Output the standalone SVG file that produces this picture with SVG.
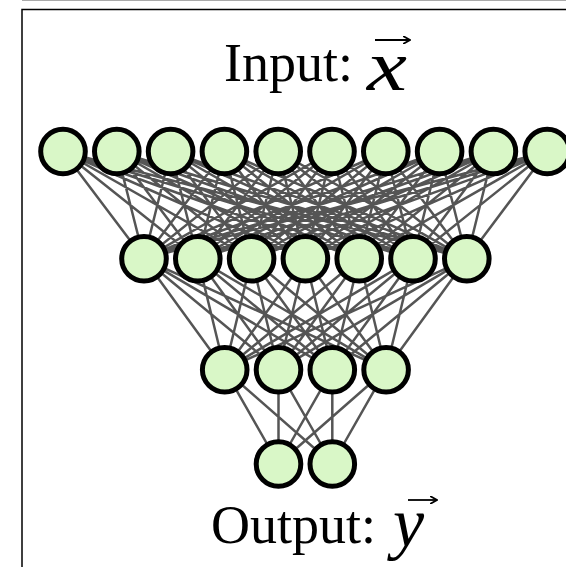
<svg xmlns="http://www.w3.org/2000/svg" width="566" height="567" viewBox="0 0 566 567">
<style>
.node{fill:#d9f7c7;stroke:#000;stroke-width:5}
.edge{stroke:#555;stroke-width:2.5}
.lbl{font-family:"Liberation Serif","Times New Roman",serif;font-size:54px;fill:#000}
.math{font-family:"Liberation Serif","Times New Roman",serif;font-style:italic;font-size:72px;fill:#000}
.vec{stroke:#000;stroke-width:1.8;fill:none}
</style>
<defs>
<marker id="ah" markerWidth="8" markerHeight="8" refX="6" refY="4" orient="auto" markerUnits="userSpaceOnUse">
<path d="M0,0 L7,4 L0,8" fill="none" stroke="#000" stroke-width="1.8"/>
</marker>
</defs>
<rect width="566" height="567" fill="#fff"/>
<line x1="22" y1="0.5" x2="566" y2="0.5" stroke="#aaa" stroke-width="1"/>
<rect x="22" y="9.5" width="600" height="600" fill="none" stroke="#000" stroke-width="1.5"/>
<g id="connectors">
<path class="edge" d="M63,151.5L144,258.8M63,151.5L197.8,258.8M63,151.5L251.6,258.8M63,151.5L305.4,258.8M63,151.5L359.2,258.8M63,151.5L413,258.8M63,151.5L466.8,258.8
M116.8,151.5L144,258.8M116.8,151.5L197.8,258.8M116.8,151.5L251.6,258.8M116.8,151.5L305.4,258.8M116.8,151.5L359.2,258.8M116.8,151.5L413,258.8M116.8,151.5L466.8,258.8
M170.6,151.5L144,258.8M170.6,151.5L197.8,258.8M170.6,151.5L251.6,258.8M170.6,151.5L305.4,258.8M170.6,151.5L359.2,258.8M170.6,151.5L413,258.8M170.6,151.5L466.8,258.8
M224.4,151.5L144,258.8M224.4,151.5L197.8,258.8M224.4,151.5L251.6,258.8M224.4,151.5L305.4,258.8M224.4,151.5L359.2,258.8M224.4,151.5L413,258.8M224.4,151.5L466.8,258.8
M278.2,151.5L144,258.8M278.2,151.5L197.8,258.8M278.2,151.5L251.6,258.8M278.2,151.5L305.4,258.8M278.2,151.5L359.2,258.8M278.2,151.5L413,258.8M278.2,151.5L466.8,258.8
M332,151.5L144,258.8M332,151.5L197.8,258.8M332,151.5L251.6,258.8M332,151.5L305.4,258.8M332,151.5L359.2,258.8M332,151.5L413,258.8M332,151.5L466.8,258.8
M385.8,151.5L144,258.8M385.8,151.5L197.8,258.8M385.8,151.5L251.6,258.8M385.8,151.5L305.4,258.8M385.8,151.5L359.2,258.8M385.8,151.5L413,258.8M385.8,151.5L466.8,258.8
M439.6,151.5L144,258.8M439.6,151.5L197.8,258.8M439.6,151.5L251.6,258.8M439.6,151.5L305.4,258.8M439.6,151.5L359.2,258.8M439.6,151.5L413,258.8M439.6,151.5L466.8,258.8
M493.4,151.5L144,258.8M493.4,151.5L197.8,258.8M493.4,151.5L251.6,258.8M493.4,151.5L305.4,258.8M493.4,151.5L359.2,258.8M493.4,151.5L413,258.8M493.4,151.5L466.8,258.8
M547.2,151.5L144,258.8M547.2,151.5L197.8,258.8M547.2,151.5L251.6,258.8M547.2,151.5L305.4,258.8M547.2,151.5L359.2,258.8M547.2,151.5L413,258.8M547.2,151.5L466.8,258.8"/>
<path class="edge" d="M144,258.8L224.7,369.7M144,258.8L278.5,369.7M144,258.8L332.3,369.7M144,258.8L386.1,369.7
M197.8,258.8L224.7,369.7M197.8,258.8L278.5,369.7M197.8,258.8L332.3,369.7M197.8,258.8L386.1,369.7
M251.6,258.8L224.7,369.7M251.6,258.8L278.5,369.7M251.6,258.8L332.3,369.7M251.6,258.8L386.1,369.7
M305.4,258.8L224.7,369.7M305.4,258.8L278.5,369.7M305.4,258.8L332.3,369.7M305.4,258.8L386.1,369.7
M359.2,258.8L224.7,369.7M359.2,258.8L278.5,369.7M359.2,258.8L332.3,369.7M359.2,258.8L386.1,369.7
M413,258.8L224.7,369.7M413,258.8L278.5,369.7M413,258.8L332.3,369.7M413,258.8L386.1,369.7
M466.8,258.8L224.7,369.7M466.8,258.8L278.5,369.7M466.8,258.8L332.3,369.7M466.8,258.8L386.1,369.7"/>
<path class="edge" d="M224.7,369.7L278.5,464M224.7,369.7L332.3,464
M278.5,369.7L278.5,464M278.5,369.7L332.3,464
M332.3,369.7L278.5,464M332.3,369.7L332.3,464
M386.1,369.7L278.5,464M386.1,369.7L332.3,464"/>
</g>
<g id="input-layer">
<g id="in1"><circle class="node" cx="63" cy="151.5" r="22.3"/></g>
<g id="in2"><circle class="node" cx="116.8" cy="151.5" r="22.3"/></g>
<g id="in3"><circle class="node" cx="170.6" cy="151.5" r="22.3"/></g>
<g id="in4"><circle class="node" cx="224.4" cy="151.5" r="22.3"/></g>
<g id="in5"><circle class="node" cx="278.2" cy="151.5" r="22.3"/></g>
<g id="in6"><circle class="node" cx="332" cy="151.5" r="22.3"/></g>
<g id="in7"><circle class="node" cx="385.8" cy="151.5" r="22.3"/></g>
<g id="in8"><circle class="node" cx="439.6" cy="151.5" r="22.3"/></g>
<g id="in9"><circle class="node" cx="493.4" cy="151.5" r="22.3"/></g>
<g id="in10"><circle class="node" cx="547.2" cy="151.5" r="22.3"/></g>
</g>
<g id="hidden1-layer">
<g id="h1_1"><circle class="node" cx="144" cy="258.8" r="22.3"/></g>
<g id="h1_2"><circle class="node" cx="197.8" cy="258.8" r="22.3"/></g>
<g id="h1_3"><circle class="node" cx="251.6" cy="258.8" r="22.3"/></g>
<g id="h1_4"><circle class="node" cx="305.4" cy="258.8" r="22.3"/></g>
<g id="h1_5"><circle class="node" cx="359.2" cy="258.8" r="22.3"/></g>
<g id="h1_6"><circle class="node" cx="413" cy="258.8" r="22.3"/></g>
<g id="h1_7"><circle class="node" cx="466.8" cy="258.8" r="22.3"/></g>
</g>
<g id="hidden2-layer">
<g id="h2_1"><circle class="node" cx="224.7" cy="369.7" r="22.3"/></g>
<g id="h2_2"><circle class="node" cx="278.5" cy="369.7" r="22.3"/></g>
<g id="h2_3"><circle class="node" cx="332.3" cy="369.7" r="22.3"/></g>
<g id="h2_4"><circle class="node" cx="386.1" cy="369.7" r="22.3"/></g>
</g>
<g id="output-layer">
<g id="out1"><circle class="node" cx="278.5" cy="464" r="22.3"/></g>
<g id="out2"><circle class="node" cx="332.3" cy="464" r="22.3"/></g>
</g>
<g id="input-label">
<text class="lbl" x="224" y="81">Input:</text>
<text class="math" transform="translate(367,90) scale(1.25,1)" x="0" y="0">x</text>
<line class="vec" x1="375" y1="40" x2="409" y2="40" marker-end="url(#ah)"/>
</g>
<g id="output-label">
<text class="lbl" x="211" y="543">Output:</text>
<text class="math" x="393" y="546" style="font-size:70px">y</text>
<line class="vec" x1="408" y1="500" x2="436" y2="500" marker-end="url(#ah)"/>
</g>
</svg>
